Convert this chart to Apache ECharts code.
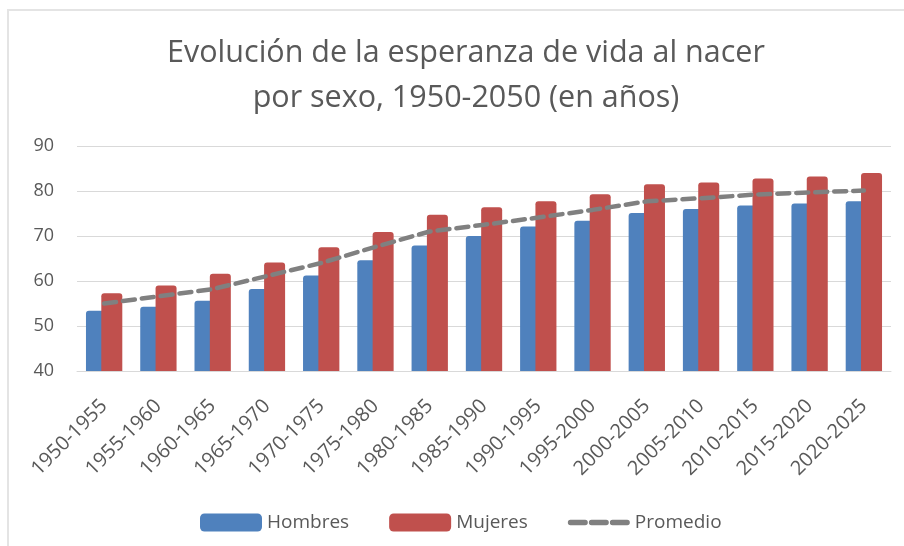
<!DOCTYPE html>
<html>
<head>
	<meta charset="utf-8">
	<title>echarts</title>
	<script type="text/javascript" src="https://cdn.jsdelivr.net/npm/echarts@6/dist/echarts.min.js"></script>
	<style>
		body { margin: 0; background: #fff; }
		#frame { position: absolute; left: 7px; top: 9px; width: 920px; height: 560px;
			border-top: 2px solid #e4e4e4; border-left: 2px solid #e4e4e4; }
		#mychar { position: absolute; left: 0; top: 0; width: 904px; height: 546px; }
	</style>
</head>
<body>
	<div id="frame"></div>
	<div id="mychar"></div>

	<script type="text/javascript">
		var periodos = ['1950-1955', '1955-1960', '1960-1965', '1965-1970', '1970-1975',
			'1975-1980', '1980-1985', '1985-1990', '1990-1995', '1995-2000',
			'2000-2005', '2005-2010', '2010-2015', '2015-2020', '2020-2025'];
		var hombres = [53.4, 54.3, 55.6, 58.2, 61.2, 64.6, 67.9, 70.0, 72.1, 73.4, 75.1, 76.0, 76.8, 77.2, 77.7];
		var mujeres = [57.3, 59.0, 61.6, 64.1, 67.5, 70.9, 74.7, 76.4, 77.7, 79.3, 81.5, 81.9, 82.8, 83.2, 84.0];
		var promedio = [55.0, 56.6, 58.2, 61.1, 64.0, 67.6, 71.0, 72.5, 74.1, 75.8, 77.7, 78.4, 79.2, 79.7, 80.1];

		var fuente = 'Open Sans';
		var gris = '#595959';
		// tres guiones para la leyenda del promedio
		var iconoGuiones = 'path://M2,0H16A2,2 0 0 1 16,5H2A2,2 0 0 1 2,0Z M22,0H36A2,2 0 0 1 36,5H22A2,2 0 0 1 22,0Z M42,0H56A2,2 0 0 1 56,5H42A2,2 0 0 1 42,0Z';

		var mychar = echarts.init(document.getElementById('mychar'));
		var option = {
			animation: false,
			title: {
				text: 'Evolución de la esperanza de vida al nacer\npor sexo, 1950-2050 (en años)',
				left: 461,
				textAlign: 'center',
				top: 26,
				textStyle: {
					fontFamily: fuente,
					fontWeight: 'normal',
					fontSize: 30.5,
					lineHeight: 45,
					color: gris
				}
			},
			legend: {
				data: ['Hombres', 'Mujeres', { name: 'Promedio', icon: iconoGuiones }],
				left: 195,
				top: 508,
				itemWidth: 62,
				itemHeight: 18,
				itemGap: 40,
				textStyle: { fontFamily: fuente, fontSize: 19, color: gris }
			},
			grid: {
				left: 77,
				right: 13,
				top: 146,
				bottom: 175
			},
			xAxis: {
				type: 'category',
				data: periodos,
				axisLine: { show: true, lineStyle: { color: '#d9d9d9' } },
				axisTick: { show: false },
				axisLabel: {
					rotate: 45,
					interval: 0,
					margin: 32,
					fontFamily: fuente,
					fontSize: 20,
					color: gris
				}
			},
			yAxis: {
				type: 'value',
				min: 40,
				max: 90,
				interval: 10,
				axisLine: { show: false },
				axisTick: { show: false },
				splitLine: { lineStyle: { color: '#d9d9d9' } },
				axisLabel: { margin: 23, fontFamily: fuente, fontSize: 18, color: gris }
			},
			series: [
				{
					name: 'Hombres',
					type: 'bar',
					data: hombres,
					barWidth: 21,
					barGap: '-27%',
					itemStyle: { color: '#4F81BD', borderRadius: [3, 3, 0, 0] }
				},
				{
					name: 'Mujeres',
					type: 'bar',
					data: mujeres,
					barWidth: 21,
					barGap: '-27%',
					itemStyle: { color: '#C0504D', borderRadius: [3, 3, 0, 0] }
				},
				{
					name: 'Promedio',
					type: 'line',
					data: promedio,
					symbol: 'none',
					z: 5,
					itemStyle: { color: '#808080' },
					lineStyle: { color: '#808080', width: 4.5, type: [12, 7], cap: 'round' }
				}
			]
		};

		mychar.setOption(option);
	</script>
</body>
</html>
